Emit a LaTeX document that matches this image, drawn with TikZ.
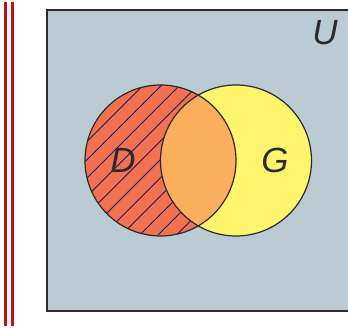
\documentclass[tikz,border=0pt]{standalone}
\usepackage{fontspec}
\setmainfont{Liberation Sans}
\definecolor{bgU}{HTML}{BACBD4}
\definecolor{setD}{HTML}{F2714F}
\definecolor{setDG}{HTML}{F9AF5C}
\definecolor{setG}{HTML}{FFF56C}
\definecolor{hatch}{HTML}{1A1A70}
\definecolor{barred}{HTML}{C0101C}
\definecolor{edge}{HTML}{2B2B2B}
\tikzset{
  lbl/.style={font=\fontsize{35}{35}\selectfont\itshape, text=edge, inner sep=0pt},
  outline/.style={draw=edge, line width=1.2pt},
  bar/.style={draw=barred, line width=3pt}
}
\begin{document}
\begin{tikzpicture}[x=1pt,y=-1pt]
\useasboundingbox (0,0) rectangle (348,328);
% red bars
\coordinate (b1t) at (5.5,2); \coordinate (b1b) at (5.5,326);
\coordinate (b2t) at (12.5,2); \coordinate (b2b) at (12.5,326);
\draw[bar] (b1t) -- (b1b);
\draw[bar] (b2t) -- (b2b);
% universe
\fill[bgU] (47,10) rectangle (352,311);
\draw[draw=edge, line width=1.6pt] (352,10) -- (47,10) -- (47,311) -- (352,311);
% D
\fill[setD] (160.5,160.5) circle (75.5);
\begin{scope}
  \clip (160.5,160.5) circle (75.5);
  \foreach \k in {-2,...,12} {
    \draw[hatch, line width=0.9pt] ({228.4+18.3*\k-300},300) -- ({228.4+18.3*\k+300},-300);
  }
  \fill[setDG] (236,160.5) circle (75.5);
\end{scope}
% G
\begin{scope}
  \clip (47,10) rectangle (352,311);
  \begin{scope}[even odd rule]
    \clip (0,0) rectangle (348,328) (160.5,160.5) circle (75.5);
    \fill[setG] (236,160.5) circle (75.5);
  \end{scope}
\end{scope}
\draw[outline] (160.5,160.5) circle (75.5);
\draw[outline] (236,160.5) circle (75.5);
% labels
\node[lbl] (D) at (123,160) {D};
\node[lbl] (G) at (275,160) {G};
\node[lbl] (U) at (325,33) {U};
\end{tikzpicture}
\end{document}
